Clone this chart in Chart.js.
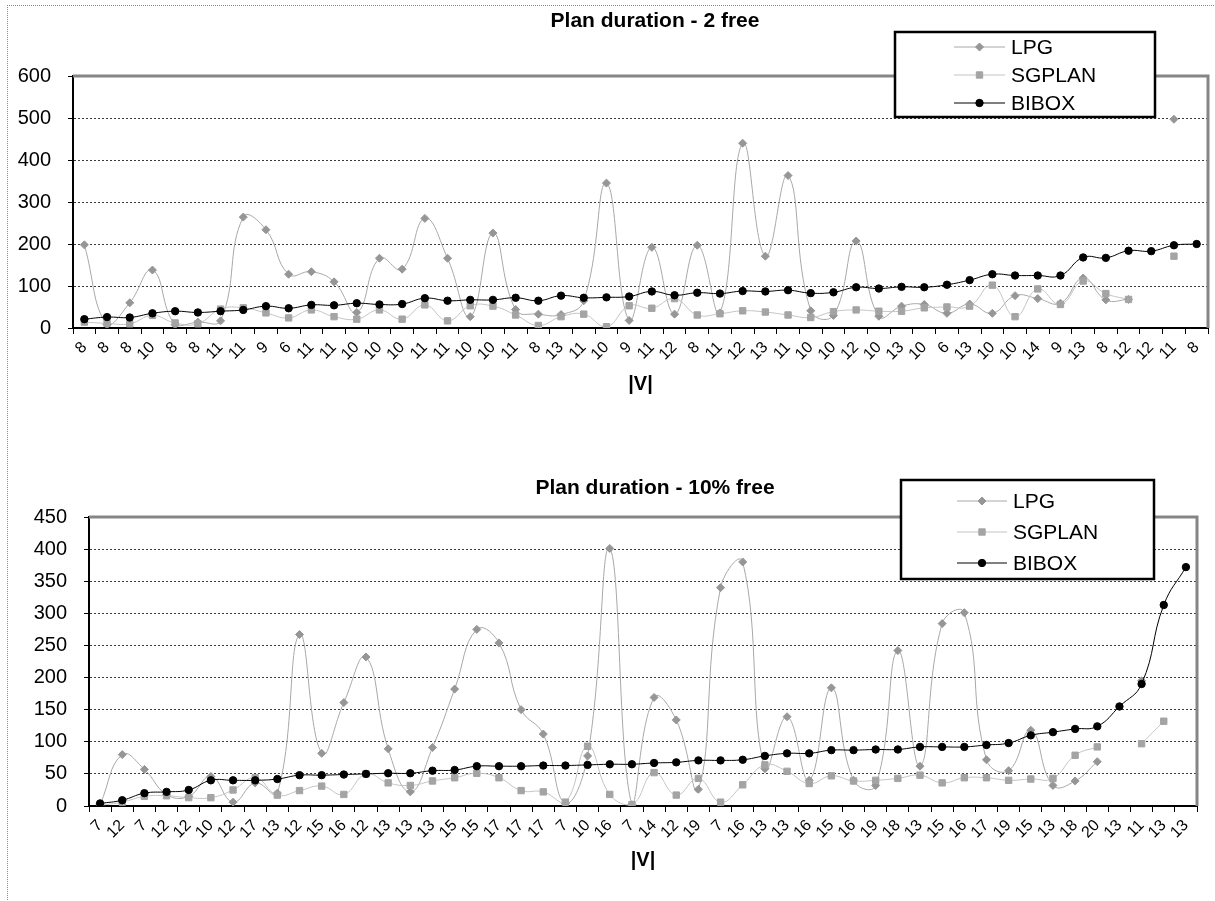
<!DOCTYPE html>
<html>
<head>
<meta charset="utf-8">
<title>Plan duration</title>
<script src="https://cdn.jsdelivr.net/npm/chart.js@4.4.1/dist/chart.umd.min.js"></script>
<style>
  html, body { margin: 0; padding: 0; background: #fff; }
  #page { position: relative; width: 1215px; height: 901px; overflow: hidden; }
  #frame { position: absolute; left: 7px; top: 5px; width: 1300px; height: 1000px;
           border-top: 1px dotted #8a8a8a; border-left: 1px dotted #8a8a8a; }
  canvas { position: absolute; left: 0; }
  #topChart { top: 0; }
  #bottomChart { top: 450px; }
</style>
</head>
<body>
<div id="page">
  <div id="frame"></div>
  <canvas id="topChart" width="1215" height="450"></canvas>
  <canvas id="bottomChart" width="1215" height="451"></canvas>
</div>
<script>
// ----- Data: Plan duration - 2 free -----
const labelsTop = [8, 8, 8, 10, 8, 8, 11, 11, 9, 6, 11, 11, 10, 10, 10, 11, 11, 10, 10, 11,
  8, 13, 11, 10, 9, 11, 12, 8, 11, 12, 13, 11, 10, 10, 12, 10, 13, 10, 6, 13,
  10, 10, 14, 9, 13, 8, 12, 12, 11, 8];
const lpgTop = [198, 8, 60, 138, 8, 14, 17, 264, 234, 128, 134, 110, 37, 166, 140, 261, 166, 27, 226, 44,
  33, 32, 65, 345, 18, 192, 33, 197, 36, 440, 171, 363, 41, 30, 207, 28, 52, 56, 35, 57,
  35, 77, 70, 59, 119, 67, 68, null, 497, null];
const sgplanTop = [14, 11, 10, 30, 12, 10, 45, 48, 36, 24, 43, 27, 21, 43, 21, 55, 17, 53, 52, 31,
  6, 27, 33, 3, 53, 47, 70, 31, 34, 41, 38, 31, 25, 39, 43, 40, 40, 48, 50, 52,
  102, 27, 93, 56, 112, 82, 68, null, 171, null];
const biboxTop = [21, 26, 25, 35, 40, 37, 40, 43, 52, 47, 55, 54, 59, 56, 57, 71, 65, 67, 67, 72,
  65, 77, 72, 73, 75, 87, 78, 84, 82, 88, 87, 90, 83, 85, 97, 94, 98, 97, 103, 114,
  128, 125, 125, 125, 168, 167, 184, 183, 197, 200];

// ----- Data: Plan duration - 10% free -----
const labelsBottom = [7, 12, 7, 12, 12, 10, 12, 17, 13, 12, 15, 16, 12, 13, 13, 13, 15, 15, 17, 17,
  17, 7, 10, 16, 7, 14, 12, 19, 7, 16, 13, 13, 16, 15, 16, 19, 18, 13, 15, 16,
  17, 19, 15, 13, 18, 20, 13, 11, 13, 13];
const lpgBottom = [2, 80, 57, 18, 15, 46, 6, 36, 20, 267, 82, 161, 232, 89, 22, 91, 182, 275, 254, 150,
  112, 4, 78, 401, 2, 169, 134, 26, 340, 380, 58, 139, 40, 184, 40, 32, 242, 62, 284, 301,
  72, 55, 118, 32, 39, 69, null, 195, null, null];
const sgplanBottom = [1, 6, 15, 16, 13, 13, 25, 44, 17, 24, 31, 18, 50, 36, 32, 39, 44, 51, 44, 24,
  22, 6, 93, 18, 2, 52, 17, 43, 6, 33, 64, 54, 35, 47, 39, 40, 43, 48, 36, 44,
  44, 40, 42, 43, 79, 92, null, 97, 132, null];
const biboxBottom = [4, 9, 20, 22, 25, 40, 40, 40, 42, 48, 48, 49, 50, 51, 51, 55, 56, 62, 62, 62,
  63, 63, 64, 65, 65, 67, 68, 71, 71, 72, 78, 82, 82, 87, 87, 88, 88, 92, 92, 92,
  95, 98, 110, 115, 120, 124, 155, 190, 313, 372];

const seriesNames = ["LPG", "SGPLAN", "BIBOX"];

Chart.defaults.font.family = '"Liberation Sans", Arial, sans-serif';
Chart.defaults.color = "#000";

// ----- Series styles -----
function makeSets(lpg, sgplan, bibox) {
  return [
    {
      label: seriesNames[0], data: lpg, order: 2,
      borderColor: "#a8a8a8", borderWidth: 1, tension: 0.45,
      pointStyle: "rectRot", pointRadius: 4,
      pointBackgroundColor: "#969696", pointBorderColor: "#969696", pointBorderWidth: 1
    },
    {
      label: seriesNames[1], data: sgplan, order: 1,
      borderColor: "#c4c4c4", borderWidth: 1, tension: 0.45,
      pointStyle: "rect", pointRadius: 4.5,
      pointBackgroundColor: "#a4a4a4", pointBorderColor: "#a4a4a4", pointBorderWidth: 1
    },
    {
      label: seriesNames[2], data: bibox, order: 0,
      borderColor: "#000", borderWidth: 1, tension: 0.45,
      pointStyle: "circle", pointRadius: 3.7,
      pointBackgroundColor: "#000", pointBorderColor: "#000", pointBorderWidth: 1
    }
  ];
}

// ----- Grey frame, title and boxed legend -----
const decor = {
  id: "decor",
  afterDraw(chart, args, o) {
    const { ctx, chartArea: a } = chart;
    ctx.save();
    ctx.strokeStyle = "#858585";
    ctx.lineWidth = 3;
    ctx.beginPath();
    ctx.moveTo(a.left, a.top);
    ctx.lineTo(a.right, a.top);
    ctx.lineTo(a.right, a.bottom);
    ctx.stroke();

    ctx.fillStyle = "#000";
    ctx.font = 'bold 21px "Liberation Sans", Arial, sans-serif';
    ctx.textAlign = "center";
    ctx.textBaseline = "middle";
    ctx.fillText(o.title, o.titleX, o.titleY);

    const b = o.box;
    ctx.fillStyle = "#fff";
    ctx.fillRect(b.x, b.y, b.w, b.h);
    ctx.lineWidth = 2.5;
    ctx.strokeStyle = "#000";
    ctx.strokeRect(b.x, b.y, b.w, b.h);
    ctx.font = '21px "Liberation Sans", Arial, sans-serif';
    ctx.textAlign = "left";
    chart.data.datasets.forEach((ds, i) => {
      const y = b.y + o.rows[i];
      ctx.strokeStyle = ds.borderColor;
      ctx.lineWidth = 1;
      ctx.beginPath();
      ctx.moveTo(b.x + o.line[0], y);
      ctx.lineTo(b.x + o.line[1], y);
      ctx.stroke();
      ctx.fillStyle = ds.pointBackgroundColor;
      ctx.strokeStyle = ds.pointBorderColor;
      ctx.lineWidth = 1;
      Chart.helpers.drawPoint(ctx, { pointStyle: ds.pointStyle, radius: ds.pointRadius, rotation: 0, borderWidth: 1 },
        b.x + (o.line[0] + o.line[1]) / 2, y);
      ctx.fillStyle = "#000";
      ctx.fillText(ds.label, b.x + o.textX, y + 1);
    });
    ctx.restore();
  }
};

function makeChart(id, labels, sets, cfg) {
  return new Chart(document.getElementById(id), {
    type: "line",
    data: { labels: labels, datasets: sets },
    plugins: [decor],
    options: {
      responsive: false,
      animation: false,
      events: [],
      layout: { padding: { top: cfg.top, right: cfg.right, left: 0, bottom: 0 } },
      plugins: {
        legend: { display: false },
        tooltip: { enabled: false },
        decor: cfg.decor
      },
      scales: {
        x: {
          offset: true,
          grid: { offset: true, drawOnChartArea: false, color: "#000", lineWidth: 1, tickLength: 6 },
          border: { color: "#000", width: 2 },
          ticks: { autoSkip: false, minRotation: 45, maxRotation: 45, color: "#000",
                   font: { size: 16 }, padding: 4 },
          title: { display: true, text: "|V|", color: "#000",
                   font: { size: 20, weight: "bold" }, padding: { top: 0, bottom: cfg.vPad } },
          afterFit: s => { s.height = cfg.xHeight; }
        },
        y: {
          min: 0, max: cfg.max,
          ticks: { stepSize: cfg.step, color: "#000", font: { size: 20 }, padding: 17 },
          grid: { color: "#3a3a3a", lineWidth: 1, tickLength: 5, tickColor: "#000" },
          border: { color: "#000", width: 2, dash: [2, 2] },
          afterFit: s => { s.width = cfg.yWidth; }
        }
      }
    }
  });
}

makeChart("topChart", labelsTop, makeSets(lpgTop, sgplanTop, biboxTop), {
  top: 76, right: 7, max: 600, step: 100, yWidth: 73, xHeight: 122, vPad: 54,
  decor: {
    title: "Plan duration - 2 free", titleX: 655, titleY: 21,
    box: { x: 895, y: 32, w: 260, h: 85 },
    rows: [15, 43, 71], line: [59, 110], textX: 116
  }
});

makeChart("bottomChart", labelsBottom, makeSets(lpgBottom, sgplanBottom, biboxBottom), {
  top: 67, right: 18, max: 450, step: 50, yWidth: 89, xHeight: 95, vPad: 29,
  decor: {
    title: "Plan duration - 10% free", titleX: 655, titleY: 38,
    box: { x: 901, y: 30, w: 253, h: 99 },
    rows: [21, 52, 83], line: [56, 106], textX: 112
  }
});
</script>
</body>
</html>
